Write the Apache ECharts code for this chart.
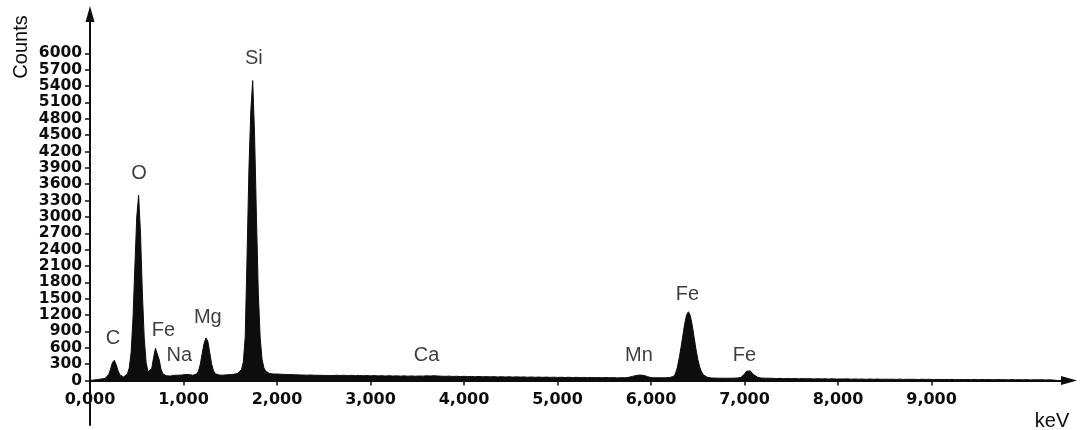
<!DOCTYPE html>
<html>
<head>
<meta charset="utf-8">
<script src="https://cdn.jsdelivr.net/npm/echarts@6/dist/echarts.min.js"></script>
<style>
  html, body { margin: 0; padding: 0; background: #ffffff; }
  #chart { width: 1080px; height: 430px; }
</style>
</head>
<body>
<div id="chart"></div>
<script>
// EDS spectrum, stored as segments of equally spaced channels (start keV, channel width keV, counts)
const lowStart = 0.00, lowStep = 0.02;   // 0.00 .. 2.60 keV
const lowCounts = [
  0, 4, 9, 14, 18, 24, 28, 31, 38, 60,
  110, 210, 330, 370, 290, 180, 100, 72, 66, 80,
  120, 230, 520, 1150, 2100, 3000, 3400, 2700, 1600, 780,
  330, 160, 140, 220, 420, 590, 560, 380, 200, 120,
  92, 85, 90, 82, 88, 95, 86, 97, 92, 100,
  104, 110, 116, 108, 102, 96, 104, 118, 170, 300,
  500, 680, 780, 720, 520, 310, 180, 125, 108, 100,
  106, 98, 110, 104, 115, 108, 120, 114, 126, 132,
  150, 200, 340, 800, 2300, 3900, 4950, 5500, 4500, 3000,
  1600, 780, 390, 230, 170, 142, 128, 134, 120, 126,
  118, 124, 115, 122, 112, 120, 110, 117, 108, 114,
  105, 112, 103, 110, 100, 108, 98, 106, 100, 104,
  96, 103, 95, 101, 94, 100, 92, 99, 93, 98,
  90
];
const midStart = 2.64, midStep = 0.04;   // 2.64 .. 6.00 keV
const midCounts = [
  97, 91, 96, 89, 94, 88, 93, 86, 92, 85,
  90, 84, 89, 82, 88, 81, 86, 80, 85, 79,
  84, 78, 83, 80, 86, 82, 88, 83, 79, 76,
  80, 74, 78, 72, 77, 71, 75, 69, 74, 68,
  72, 67, 71, 65, 70, 64, 68, 63, 67, 62,
  66, 60, 65, 59, 63, 58, 62, 57, 61, 56,
  60, 55, 59, 54, 58, 53, 57, 52, 56, 51,
  55, 50, 54, 49, 53, 48, 52, 50, 58, 75,
  92, 100, 94, 72, 52
];
const feStart = 6.02, feStep = 0.02;     // 6.02 .. 7.30 keV
const feCounts = [
  47, 51, 46, 50, 45, 49, 46, 50, 52, 56,
  60, 75, 120, 230, 400, 600, 820, 1040, 1200, 1260,
  1190, 1020, 800, 580, 390, 250, 160, 105, 75, 60,
  52, 47, 50, 44, 48, 43, 47, 42, 46, 41,
  45, 42, 46, 43, 47, 45, 50, 56, 75, 120,
  168, 190, 176, 142, 104, 78, 60, 50, 44, 40,
  43, 38, 41, 37, 40
];
const highStart = 7.34, highStep = 0.04; // 7.34 .. 10.34 keV
const highCounts = [
  35, 39, 33, 37, 34, 36, 30, 35, 31, 34,
  28, 33, 29, 31, 27, 32, 26, 29, 27, 30,
  24, 28, 25, 26, 22, 27, 23, 26, 21, 25,
  22, 24, 20, 25, 19, 23, 21, 22, 18, 23,
  19, 22, 17, 21, 18, 20, 17, 21, 16, 20,
  17, 19, 15, 20, 14, 18, 16, 18, 13, 17,
  15, 16, 12, 17, 13, 15, 12, 16, 11, 14,
  12, 14, 10, 13, 9, 0
];

// Axis ticks
const xTickValues = [0, 1, 2, 3, 4, 5, 6, 7, 8, 9];
const xTickLabels = ['0,000', '1,000', '2,000', '3,000', '4,000', '5,000', '6,000', '7,000', '8,000', '9,000'];
const yTickValues = [0, 300, 600, 900, 1200, 1500, 1800, 2100, 2400, 2700, 3000,
  3300, 3600, 3900, 4200, 4500, 4800, 5100, 5400, 5700, 6000];

// Element line labels (position in keV / counts)
const elementNames  = ['C', 'O', 'Fe', 'Na', 'Mg', 'Si', 'Ca', 'Mn', 'Fe', 'Fe'];
const elementKeV    = [0.246, 0.525, 0.785, 0.955, 1.26, 1.753, 3.6, 5.87, 6.39, 7.0];
const elementLabelY = [770, 3800, 910, 460, 1160, 5900, 460, 450, 1570, 450];

const segments = [
  [lowStart, lowStep, lowCounts],
  [midStart, midStep, midCounts],
  [feStart, feStep, feCounts],
  [highStart, highStep, highCounts]
];
const spectrum = [];
segments.forEach(([start, step, counts]) => {
  counts.forEach((c, i) => spectrum.push([+(start + i * step).toFixed(2), c]));
});
const labelPoints = elementNames.map((n, i) => [elementKeV[i], elementLabelY[i], n]);

const ink = '#0d0d0d';
const tickFont = { fontFamily: 'DejaVu Sans', fontWeight: 'bold', fontSize: 15.5, color: ink };
const textFont = '20px "Liberation Sans", Arial, sans-serif';

function xLabel(v) {
  const i = xTickValues.indexOf(Math.round(Number(v)));
  return i >= 0 ? xTickLabels[i] : '';
}

const chart = echarts.init(document.getElementById('chart'), null, { renderer: 'canvas' });
chart.setOption({
  animation: false,
  backgroundColor: '#ffffff',
  grid: [
    // plot area
    { left: 90, right: 11, top: 14, bottom: 49.5, containLabel: false, outerBoundsMode: 'none' },
    // strip below the energy axis, carrying the downward stub of the counts axis
    { left: 90, right: 11, top: 380.5, bottom: 5, containLabel: false, outerBoundsMode: 'none' }
  ],
  xAxis: [
    {
      gridIndex: 0, type: 'value', min: 0, max: 10.47,
      axisLine: { show: true, onZero: false, symbol: ['none', 'triangle'], symbolSize: [9, 16],
        lineStyle: { color: ink, width: 2 } },
      axisTick: { show: true, customValues: xTickValues, length: 5, lineStyle: { color: ink, width: 1.5 } },
      axisLabel: { show: true, customValues: xTickValues, margin: 11, ...tickFont, fontSize: 16, formatter: xLabel },
      splitLine: { show: false }
    },
    { gridIndex: 1, type: 'value', min: 0, max: 1, show: false }
  ],
  yAxis: [
    {
      gridIndex: 0, type: 'value', min: 0, max: 6721,
      axisLine: { show: true, onZero: false, symbol: ['none', 'triangle'], symbolSize: [9, 16],
        lineStyle: { color: ink, width: 2 } },
      axisTick: { show: true, customValues: yTickValues, length: 5, lineStyle: { color: ink, width: 1.5 } },
      axisLabel: { customValues: yTickValues, margin: 8, ...tickFont, formatter: v => String(v) },
      splitLine: { show: false }
    },
    {
      gridIndex: 1, type: 'value', min: 0, max: 1,
      axisLine: { show: true, onZero: false, lineStyle: { color: ink, width: 2 } },
      axisTick: { show: false }, axisLabel: { show: false }, splitLine: { show: false }
    }
  ],
  graphic: [
    { type: 'text', x: 21, y: 47, rotation: Math.PI / 2,
      style: { text: 'Counts', font: textFont, fill: ink, textAlign: 'center', textVerticalAlign: 'middle' } },
    { type: 'text', x: 1052, y: 421,
      style: { text: 'keV', font: textFont, fill: ink, textAlign: 'center', textVerticalAlign: 'middle' } }
  ],
  series: [
    {
      type: 'line', data: spectrum, showSymbol: false, symbol: 'none', silent: true,
      xAxisIndex: 0, yAxisIndex: 0,
      lineStyle: { color: ink, width: 1 },
      areaStyle: { color: ink, opacity: 1 },
      z: 2
    },
    {
      type: 'scatter', data: labelPoints, symbolSize: 1, silent: true,
      xAxisIndex: 0, yAxisIndex: 0,
      itemStyle: { color: 'rgba(0,0,0,0)' },
      label: { show: true, position: 'inside', formatter: p => p.value[2],
        fontFamily: '"Liberation Sans", Arial, sans-serif', fontSize: 20, color: ink },
      z: 3
    }
  ]
});
</script>
</body>
</html>
